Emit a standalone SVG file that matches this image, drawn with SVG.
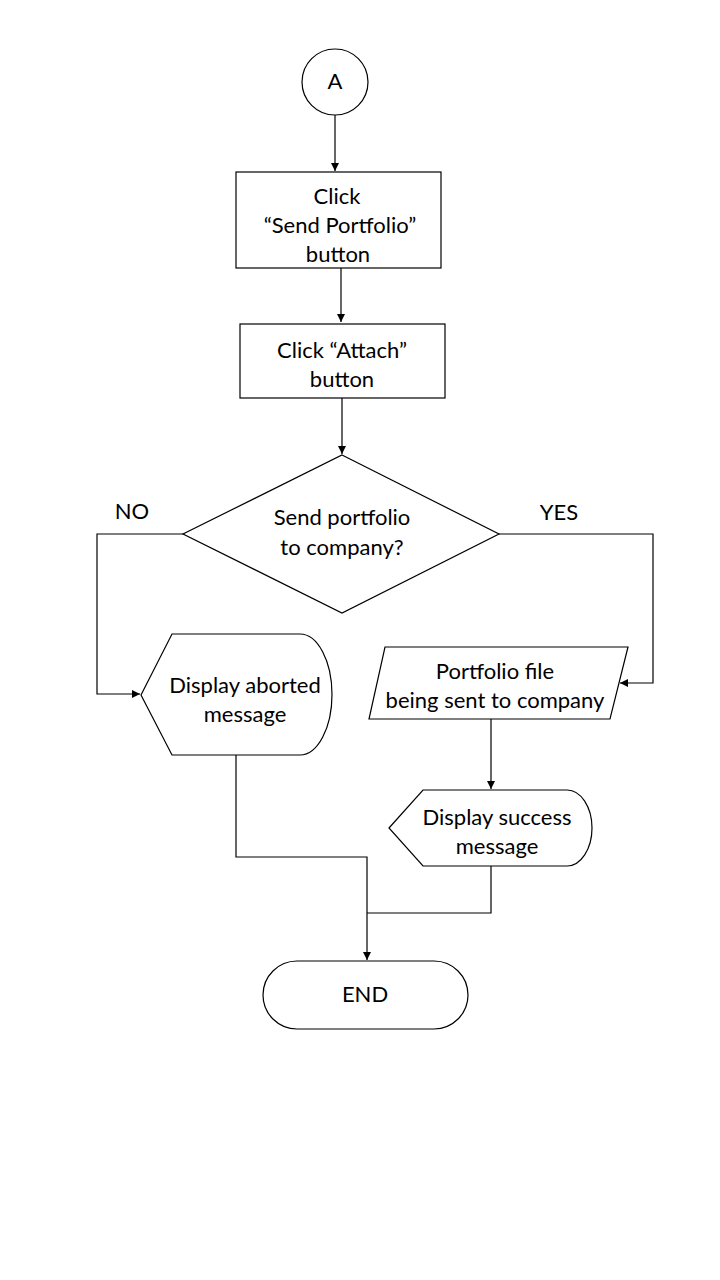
<svg xmlns="http://www.w3.org/2000/svg" width="720" height="1280" viewBox="0 0 720 1280">
<defs>
<marker id="arr" viewBox="0 0 10 10" refX="10" refY="5" markerWidth="8" markerHeight="8" markerUnits="userSpaceOnUse" orient="auto">
<path d="M0,0 L10,5 L0,10 Z" fill="#000"/>
</marker>
<style>
.shape{fill:#fff;stroke:#000;stroke-width:1.2}
.conn{fill:none;stroke:#000;stroke-width:1.2}
text{font-family:Lato,"Liberation Sans",sans-serif;font-size:22px;fill:#000;text-anchor:middle}
</style>
</defs>
<rect width="720" height="1280" fill="#fff"/>
<g id="connectors">
<path class="conn" d="M335,115 L335,171" marker-end="url(#arr)"/>
<path class="conn" d="M341,268 L341,322" marker-end="url(#arr)"/>
<path class="conn" d="M342,398 L342,454" marker-end="url(#arr)"/>
<path class="conn" d="M183,534 L97,534 L97,694 L140,694" marker-end="url(#arr)"/>
<path class="conn" d="M499,534 L653,534 L653,683 L620,683" marker-end="url(#arr)"/>
<path class="conn" d="M491,719 L491,789" marker-end="url(#arr)"/>
<path class="conn" d="M236,755 L236,857 L367,857 L367,960" marker-end="url(#arr)"/>
<path class="conn" d="M491,866 L491,913 L367,913"/>
</g>
<g id="nodeA">
<circle class="shape" cx="335" cy="82" r="33"/>
<text x="335" y="89">A</text>
</g>
<g id="clickSend">
<rect class="shape" x="236" y="172" width="205" height="96"/>
<text x="337" y="204">Click</text>
<text x="340" y="233">“Send Portfolio”</text>
<text x="338" y="262">button</text>
</g>
<g id="clickAttach">
<rect class="shape" x="240" y="324" width="205" height="74"/>
<text x="342" y="358">Click “Attach”</text>
<text x="342" y="387">button</text>
</g>
<g id="decision">
<polygon class="shape" points="342,455 499,534 342,613 183,534"/>
<text x="342" y="525">Send portfolio</text>
<text x="342" y="555">to company?</text>
<text x="132" y="519">NO</text>
<text x="559" y="520">YES</text>
</g>
<g id="displayAborted">
<path class="shape" d="M141,695 L172,634 L300,634 A32,60.5 0 0 1 300,755 L172,755 Z"/>
<text x="245" y="693">Display aborted</text>
<text x="245" y="722">message</text>
</g>
<g id="portfolioSent">
<polygon class="shape" points="385,647 628,647 610,719 369,719"/>
<text x="495" y="679">Portfolio file</text>
<text x="495" y="708">being sent to company</text>
</g>
<g id="displaySuccess">
<path class="shape" d="M389,828 L423,790 L567,790 A25,38 0 0 1 567,866 L423,866 Z"/>
<text x="497" y="825">Display success</text>
<text x="497" y="854">message</text>
</g>
<g id="end">
<rect class="shape" x="263" y="961" width="205" height="68" rx="34" ry="34"/>
<text x="365" y="1002">END</text>
</g>
</svg>
